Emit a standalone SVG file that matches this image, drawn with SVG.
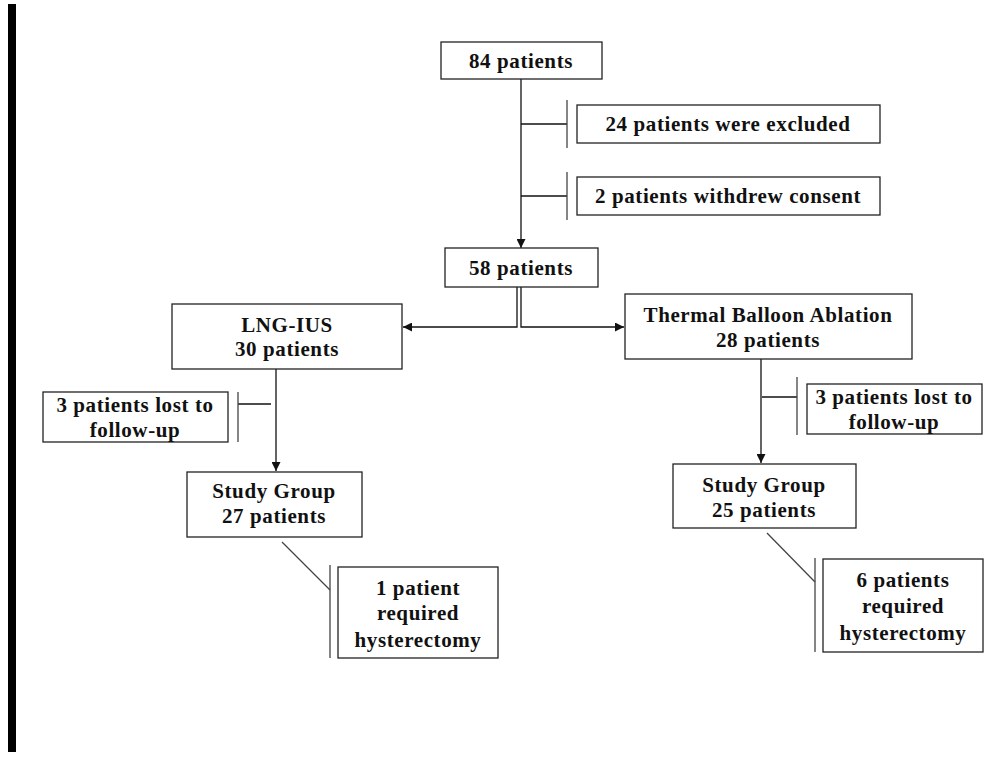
<svg xmlns="http://www.w3.org/2000/svg" width="991" height="760" viewBox="0 0 991 760">
<defs>
<style>
.box{fill:#fff;stroke:#222;stroke-width:1.3}
.t{font-family:"Liberation Serif","Times New Roman",serif;font-weight:bold;font-size:21px;letter-spacing:0.6px;fill:#111;text-anchor:middle}
.ln{stroke:#111;stroke-width:1.3;fill:none}
.tk{stroke:#444;stroke-width:1.3;fill:none}
</style>
<marker id="ar" viewBox="0 0 10 10" refX="10" refY="5" markerWidth="9" markerHeight="9" markerUnits="userSpaceOnUse" orient="auto">
<path d="M0,0 L10,5 L0,10 z" fill="#111"/>
</marker>
</defs>
<rect x="8" y="4" width="8" height="748" fill="#000"/>
<g id="connectors">
<line class="ln" x1="521" y1="79" x2="521" y2="248" marker-end="url(#ar)"/>
<line class="ln" x1="521" y1="124" x2="567" y2="124"/>
<line class="tk" x1="567" y1="100" x2="567" y2="148"/>
<line class="ln" x1="521" y1="196" x2="567" y2="196"/>
<line class="tk" x1="567" y1="172" x2="567" y2="220"/>
<polyline class="ln" points="517,287 517,327 403,327" marker-end="url(#ar)"/>
<polyline class="ln" points="521,287 521,327 624,327" marker-end="url(#ar)"/>
<line class="ln" x1="276" y1="369" x2="276" y2="471" marker-end="url(#ar)"/>
<line class="ln" x1="271" y1="404" x2="238" y2="404"/>
<line class="tk" x1="238" y1="392" x2="238" y2="442"/>
<line class="ln" x1="761" y1="359" x2="761" y2="463" marker-end="url(#ar)"/>
<line class="ln" x1="762" y1="397" x2="797" y2="397"/>
<line class="tk" x1="797" y1="377" x2="797" y2="435"/>
<line class="tk" x1="282" y1="542" x2="330" y2="590"/>
<line class="tk" x1="330" y1="565" x2="330" y2="658"/>
<line class="tk" x1="767" y1="533" x2="815" y2="582"/>
<line class="tk" x1="815" y1="558" x2="815" y2="652"/>
</g>
<g id="n84">
<rect class="box" x="441" y="42" width="161" height="37"/>
<text class="t" x="521" y="68">84 patients</text>
</g>
<g id="excluded">
<rect class="box" x="577" y="105" width="303" height="38"/>
<text class="t" x="728" y="131">24 patients were excluded</text>
</g>
<g id="withdrew">
<rect class="box" x="577" y="177" width="303" height="38"/>
<text class="t" x="728" y="203">2 patients withdrew consent</text>
</g>
<g id="n58">
<rect class="box" x="445" y="248" width="153" height="39"/>
<text class="t" x="521" y="275">58 patients</text>
</g>
<g id="lng">
<rect class="box" x="172" y="304" width="230" height="65"/>
<text class="t" x="287" y="332">LNG-IUS</text>
<text class="t" x="287" y="356">30 patients</text>
</g>
<g id="tba">
<rect class="box" x="625" y="294" width="287" height="65"/>
<text class="t" x="768" y="322">Thermal Balloon Ablation</text>
<text class="t" x="768" y="347">28 patients</text>
</g>
<g id="lostL">
<rect class="box" x="43" y="392" width="185" height="50"/>
<text class="t" x="135" y="412">3 patients lost to</text>
<text class="t" x="135" y="437">follow-up</text>
</g>
<g id="lostR">
<rect class="box" x="807" y="384" width="175" height="50"/>
<text class="t" x="894" y="404">3 patients lost to</text>
<text class="t" x="894" y="429">follow-up</text>
</g>
<g id="sg27">
<rect class="box" x="187" y="472" width="175" height="65"/>
<text class="t" x="274" y="498">Study Group</text>
<text class="t" x="274" y="523">27 patients</text>
</g>
<g id="sg25">
<rect class="box" x="673" y="464" width="183" height="64"/>
<text class="t" x="764" y="492">Study Group</text>
<text class="t" x="764" y="517">25 patients</text>
</g>
<g id="hyst1">
<rect class="box" x="338" y="567" width="160" height="91"/>
<text class="t" x="418" y="595">1 patient</text>
<text class="t" x="418" y="620">required</text>
<text class="t" x="418" y="647">hysterectomy</text>
</g>
<g id="hyst6">
<rect class="box" x="823" y="559" width="160" height="93"/>
<text class="t" x="903" y="587">6 patients</text>
<text class="t" x="903" y="613">required</text>
<text class="t" x="903" y="640">hysterectomy</text>
</g>
</svg>
